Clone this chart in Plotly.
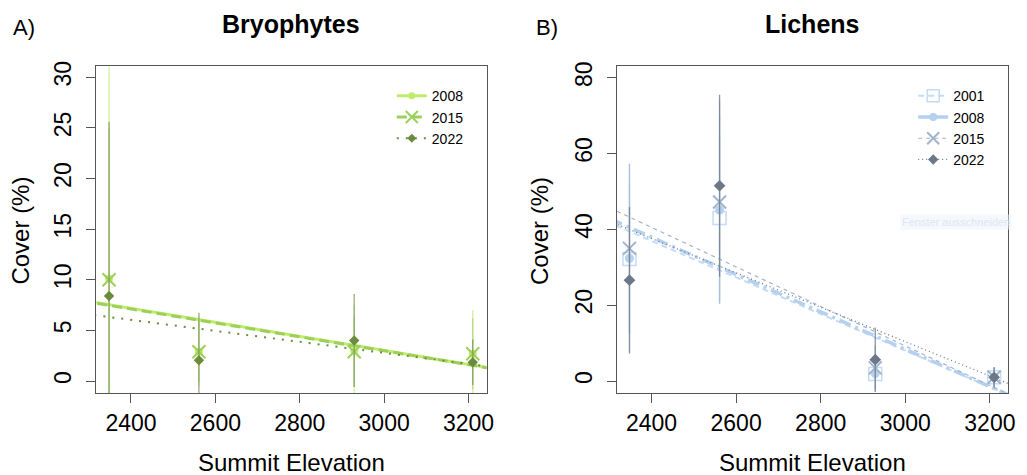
import numpy as np
import plotly.graph_objects as go

# summit elevations (m) shared by both panels
elev = [2348, 2561, 2929, 3210]

# Bryophytes, mean cover (%) and error half-widths per survey year
bryo_2008 = [10.1, 2.9, 3.0, 2.7]
bryo_2008_err = [23.0, 3.5, 4.5, 4.3]
bryo_2015 = [10.0, 2.9, 2.9, 2.7]
bryo_2015_err = [15.0, 3.0, 3.5, 3.5]
bryo_2022 = [8.4, 2.05, 4.0, 1.85]
bryo_2022_err = [17.2, 4.7, 4.6, 2.25]

# Lichens
lich_2001 = [32.2, 43.0, 1.9, 1.0]
lich_2001_err = [20.0, 22.0, 4.0, 2.5]
lich_2008 = [32.4, 45.1, 2.0, 1.0]
lich_2008_err = [24.9, 24.7, 4.0, 2.5]
lich_2015 = [35.0, 47.2, 3.5, 1.0]
lich_2015_err = [22.3, 26.8, 6.0, 2.5]
lich_2022 = [26.6, 51.5, 5.66, 1.0]
lich_2022_err = [19.3, 24.0, 8.5, 2.7]

x_fit = np.array([2250, 3300])

FONT = "Liberation Sans, Arial, sans-serif"

# the page body has an 8px margin, so the figure starts 8px in from the corner
W, H = 1019, 467


def px(x):
    return (x - 8) / W


def py(y):
    return 1 - (y - 8) / H


bryo = [
    # year, values, errors, colour, errcolour, symbol, size, dash, width
    ("2008", bryo_2008, bryo_2008_err, "#c0ec6e", "rgba(200,235,130,0.8)", "circle", 8, "solid", 3),
    ("2015", bryo_2015, bryo_2015_err, "#9dd05a", "rgba(160,205,100,0.6)", "x-thin", 13, "10px,5px", 3),
    ("2022", bryo_2022, bryo_2022_err, "#6b8c3c", "rgba(120,145,85,0.75)", "diamond", 8, "2px,7px", 2),
]
lich = [
    ("2001", lich_2001, lich_2001_err, "#c4dcf5", "rgba(190,215,242,0.7)", "square-open", 13, "6px,4px", 2),
    ("2008", lich_2008, lich_2008_err, "#b5d1ef", "rgba(180,208,238,0.7)", "circle", 9, "12px,5px,3px,5px", 3.5),
    ("2015", lich_2015, lich_2015_err, "#a2b4cc", "rgba(160,178,204,0.7)", "x-thin", 13, "4px,4px", 1.2),
    ("2022", lich_2022, lich_2022_err, "#6c7888", "rgba(110,122,138,0.8)", "diamond", 9, "1px,3px", 1.3),
]
legend_dash = {"bryo": ["solid", "10px,5px", "2px,7px"],
               "lich": ["6px,4px", "solid", "4px,4px", "1px,3px"]}

fig = go.Figure()


def add_panel(series, xa, ya, legend, key):
    # fitted lines first
    for yr, vals, err, col, ecol, sym, size, dash, w in series:
        a, b = np.polyfit(elev, vals, 1)
        fig.add_trace(go.Scatter(x=x_fit, y=a * x_fit + b, mode="lines",
                                 line=dict(color=col, dash=dash, width=w),
                                 xaxis=xa, yaxis=ya, showlegend=False, hoverinfo="skip"))
    for yr, vals, err, col, ecol, sym, size, dash, w in series:
        mk = dict(symbol=sym, size=size, color=col)
        if sym.startswith("x") or sym.endswith("open"):
            mk["line"] = dict(color=col, width=2 if sym.startswith("x") else 1.5)
        fig.add_trace(go.Scatter(x=elev, y=vals, mode="markers", marker=mk,
                                 error_y=dict(type="data", array=err, color=ecol,
                                              thickness=1.3, width=0),
                                 xaxis=xa, yaxis=ya, showlegend=False))
    # legend-only entries
    for (yr, vals, err, col, ecol, sym, size, dash, w), ldash in zip(series, legend_dash[key]):
        mk = dict(symbol=sym, size=size - 1, color=col)
        if sym.startswith("x") or sym.endswith("open"):
            mk["line"] = dict(color=col, width=2 if sym.startswith("x") else 1.5)
        fig.add_trace(go.Scatter(x=[None], y=[None], mode="lines+markers", name=yr,
                                 marker=mk, line=dict(color=col, dash=ldash, width=w),
                                 xaxis=xa, yaxis=ya, legend=legend))


add_panel(bryo, "x", "y", "legend", "bryo")
add_panel(lich, "x2", "y2", "legend2", "lich")

xax = dict(range=[2318, 3243], tickvals=[2400, 2600, 2800, 3000, 3200],
           showline=True, mirror=True, linecolor="#555", linewidth=1.2,
           ticks="outside", ticklen=9, tickcolor="#555", showgrid=False, zeroline=False,
           tickfont=dict(size=23, color="black", family=FONT))
yax = dict(showline=True, mirror=True, linecolor="#555", linewidth=1.2,
           ticks="outside", ticklen=9, tickcolor="#555", showgrid=False, zeroline=False,
           tickangle=-90, ticklabelstandoff=6,
           tickfont=dict(size=23, color="black", family=FONT))

ydom = [py(392), py(62)]
fig.update_layout(
    width=W, height=H,
    margin=dict(l=0, r=0, t=0, b=0),
    plot_bgcolor="white", paper_bgcolor="white",
    font=dict(family=FONT, color="black"),
    xaxis={**xax, "domain": [px(97), px(490)], "anchor": "y"},
    yaxis={**yax, "domain": ydom, "anchor": "x", "range": [-1.17, 31.07],
           "tickvals": [0, 5, 10, 15, 20, 25, 30]},
    xaxis2={**xax, "domain": [px(621), px(1015)], "anchor": "y2"},
    yaxis2={**yax, "domain": ydom, "anchor": "x2", "range": [-3.1, 82.95],
            "tickvals": [0, 20, 40, 60, 80]},
    legend=dict(x=px(472), y=py(76), xanchor="right", yanchor="top", bgcolor="rgba(0,0,0,0)",
                font=dict(size=14), tracegroupgap=0),
    legend2=dict(x=px(997), y=py(76), xanchor="right", yanchor="top", bgcolor="rgba(0,0,0,0)",
                 font=dict(size=14), tracegroupgap=0),
)

ann = [
    dict(text="<b>Bryophytes</b>", x=px(293), y=py(19), size=25),
    dict(text="<b>Lichens</b>", x=px(818), y=py(19), size=25),
    dict(text="A)", x=px(24), y=py(23), size=22),
    dict(text="B)", x=px(551), y=py(23), size=22),
    dict(text="Summit Elevation", x=px(293), y=py(462), size=24),
    dict(text="Summit Elevation", x=px(818), y=py(462), size=24),
]
for a in ann:
    fig.add_annotation(text=a["text"], x=a["x"], y=a["y"], xref="paper", yref="paper",
                       showarrow=False, xanchor="center", yanchor="middle",
                       font=dict(size=a["size"], color="black", family=FONT))
for xc in [21, 543]:
    fig.add_annotation(text="Cover (%)", x=px(xc), y=py(228), xref="paper", yref="paper",
                       showarrow=False, textangle=-90, xanchor="center", yanchor="middle",
                       font=dict(size=24, color="black", family=FONT))

# faint screen-capture tooltip left in the original image
fig.add_annotation(text="Fenster ausschneiden", x=px(906), y=py(219),
                   xref="paper", yref="paper", showarrow=False, xanchor="left",
                   yanchor="middle", bgcolor="rgba(236,242,250,0.5)",
                   font=dict(size=11, color="rgba(215,225,238,0.8)", family=FONT))

fig.write_html("out.html")
